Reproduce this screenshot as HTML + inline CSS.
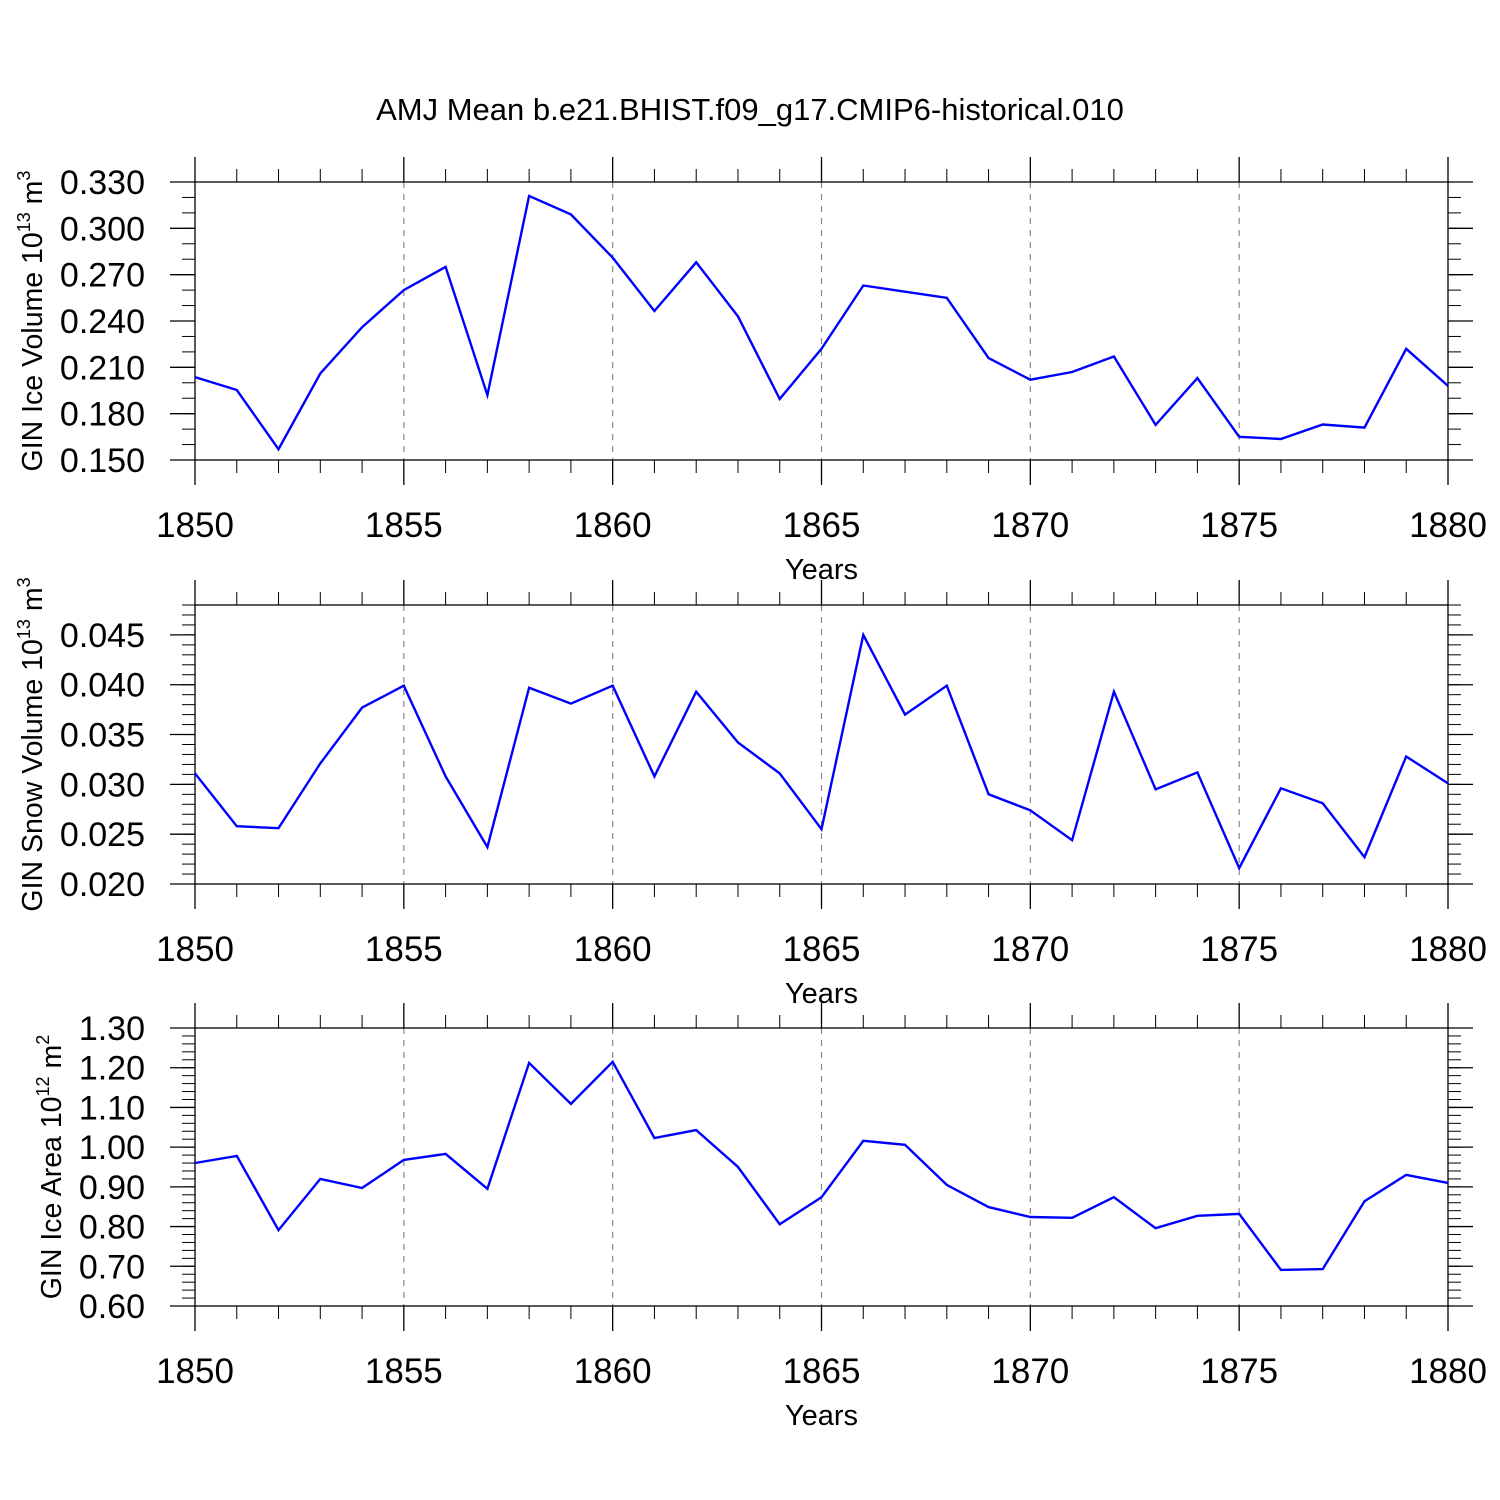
<!DOCTYPE html>
<html><head><meta charset="utf-8"><style>
html,body{margin:0;padding:0;background:#fff;}
svg{display:block;font-family:"Liberation Sans",Arial,sans-serif;}
</style></head><body>
<svg id="chart" width="1500" height="1500" viewBox="0 0 1500 1500" xmlns="http://www.w3.org/2000/svg">
<text x="750" y="120" font-size="31" text-anchor="middle">AMJ Mean b.e21.BHIST.f09_g17.CMIP6-historical.010</text>
</svg>
<script>
const years = [1850,1851,1852,1853,1854,1855,1856,1857,1858,1859,1860,1861,1862,1863,1864,1865,1866,1867,1868,1869,1870,1871,1872,1873,1874,1875,1876,1877,1878,1879,1880];
const iceVolume = [0.2037,0.1953,0.157,0.206,0.236,0.260,0.275,0.192,0.321,0.309,0.281,0.2465,0.278,0.243,0.1895,0.222,0.263,0.259,0.255,0.216,0.202,0.207,0.217,0.1727,0.203,0.165,0.1636,0.173,0.171,0.222,0.198];
const snowVolume = [0.0311,0.0258,0.0256,0.0321,0.0377,0.0399,0.0308,0.0237,0.0397,0.0381,0.0399,0.0308,0.0393,0.0342,0.0311,0.0255,0.0450,0.0370,0.0399,0.0290,0.0274,0.0244,0.0393,0.0295,0.0312,0.0216,0.0296,0.0281,0.0227,0.0328,0.0301];
const iceArea = [0.960,0.978,0.791,0.920,0.897,0.968,0.983,0.895,1.212,1.109,1.215,1.023,1.043,0.950,0.806,0.874,1.016,1.006,0.905,0.849,0.824,0.822,0.874,0.796,0.827,0.832,0.691,0.693,0.864,0.930,0.910];
const xTickLabels = ["1850","1855","1860","1865","1870","1875","1880"];
const iceVolumeTicks = ["0.150","0.180","0.210","0.240","0.270","0.300","0.330"];
const snowVolumeTicks = ["0.020","0.025","0.030","0.035","0.040","0.045"];
const iceAreaTicks = ["0.60","0.70","0.80","0.90","1.00","1.10","1.20","1.30"];

const NS="http://www.w3.org/2000/svg";
const svg=document.getElementById('chart');
const X0=195,X1=1448,XMIN=1850,XMAX=1880;
function xs(v){return X0+(v-XMIN)/(XMAX-XMIN)*(X1-X0);}
function mk(tag,attrs,parent){const e=document.createElementNS(NS,tag);for(const k in attrs)e.setAttribute(k,attrs[k]);(parent||svg).appendChild(e);return e;}

const panels=[
 {name:'ice-volume',top:182,bot:460,ymin:0.150,ymax:0.330,ticks:iceVolumeTicks,minor:0.01,data:iceVolume,title:'GIN Ice Volume 10',sup:'13',unit:' m',usup:'3',tx:42},
 {name:'snow-volume',top:605,bot:884,ymin:0.020,ymax:0.048,ticks:snowVolumeTicks,minor:0.001,data:snowVolume,title:'GIN Snow Volume 10',sup:'13',unit:' m',usup:'3',tx:42},
 {name:'ice-area',top:1028,bot:1306,ymin:0.60,ymax:1.30,ticks:iceAreaTicks,minor:0.02,data:iceArea,title:'GIN Ice Area 10',sup:'12',unit:' m',usup:'2',tx:61}
];

panels.forEach(p=>{
 const g=mk('g',{});
 
 
 const ys=v=>p.bot-(v-p.ymin)/(p.ymax-p.ymin)*(p.bot-p.top);
 for(let yr=1855;yr<1880;yr+=5){
  const l=mk('line',{x1:xs(yr),x2:xs(yr),y1:p.top,y2:p.bot,stroke:'#888','stroke-width':1.2,'stroke-dasharray':'6,6'},g);
  
  
 }
 const fr=mk('rect',{x:X0,y:p.top,width:X1-X0,height:p.bot-p.top,fill:'none',stroke:'#000','stroke-width':1.3},g);
 
 
 for(let yr=XMIN;yr<=XMAX;yr++){
  const major=(yr%5===0);const len=major?25:13;const x=xs(yr);
  mk('line',{x1:x,x2:x,y1:p.top,y2:p.top-len,stroke:'#000','stroke-width':major?1.3:1},g);
  mk('line',{x1:x,x2:x,y1:p.bot,y2:p.bot+len,stroke:'#000','stroke-width':major?1.3:1},g);
 }
 xTickLabels.forEach(t=>{
  const tx=mk('text',{x:xs(+t),y:p.bot+77,'font-size':35,'text-anchor':'middle'},g);
  tx.textContent=t;
  
  
 });
 const nmin=Math.round((p.ymax-p.ymin)/p.minor);
 for(let i=0;i<=nmin;i++){
  const y=ys(p.ymin+i*p.minor);
  mk('line',{x1:X0,x2:X0-13,y1:y,y2:y,stroke:'#000','stroke-width':1},g);
  mk('line',{x1:X1,x2:X1+13,y1:y,y2:y,stroke:'#000','stroke-width':1},g);
 }
 p.ticks.forEach(t=>{
  const y=ys(+t);
  mk('line',{x1:X0,x2:X0-25,y1:y,y2:y,stroke:'#000','stroke-width':1.3},g);
  mk('line',{x1:X1,x2:X1+25,y1:y,y2:y,stroke:'#000','stroke-width':1.3},g);
  const tx=mk('text',{x:145,y:y+12,'font-size':34,'text-anchor':'end'},g);
  tx.textContent=t;
  
  
 });
 const cy=(p.top+p.bot)/2;
 const yt=mk('text',{x:0,y:0,'font-size':28.5,'text-anchor':'middle',transform:`translate(${p.tx},${cy}) rotate(-90)`},g);
 
 
 const a=document.createElementNS(NS,'tspan');a.textContent=p.title;yt.appendChild(a);
 const b=document.createElementNS(NS,'tspan');b.setAttribute('dy','-12');b.setAttribute('font-size','18');b.textContent=p.sup;yt.appendChild(b);
 const c=document.createElementNS(NS,'tspan');c.setAttribute('dy','12');c.textContent=p.unit;yt.appendChild(c);
 const d=document.createElementNS(NS,'tspan');d.setAttribute('dy','-12');d.setAttribute('font-size','18');d.textContent=p.usup;yt.appendChild(d);
 const xt=mk('text',{x:(X0+X1)/2,y:p.bot+119,'font-size':29,'text-anchor':'middle'},g);
 xt.textContent='Years';
 
 
 const pts=p.data.map((v,i)=>xs(years[i]).toFixed(1)+','+ys(v).toFixed(1)).join(' ');
 const pl=mk('polyline',{points:pts,fill:'none',stroke:'#0000ff','stroke-width':2.4,'stroke-linejoin':'miter'},g);
 
 
});
</script>
</body></html>
